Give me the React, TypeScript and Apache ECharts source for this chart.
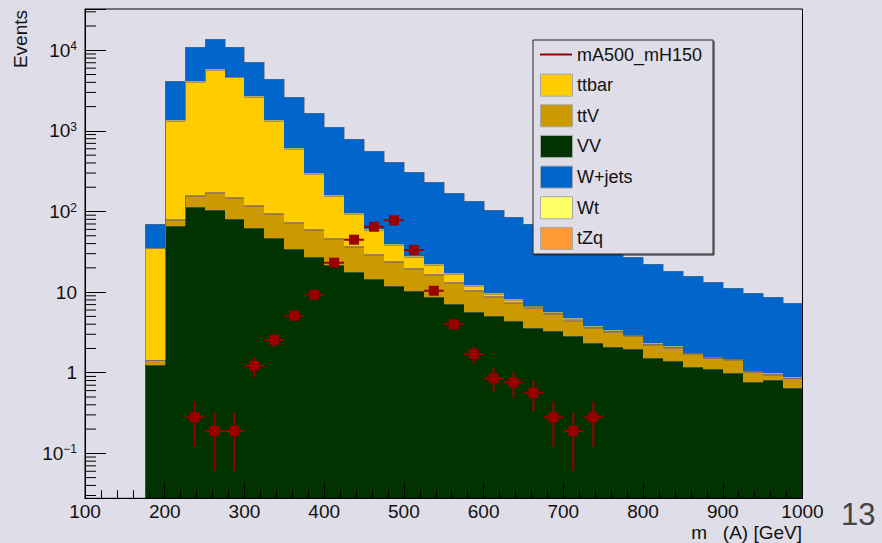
import React, { useEffect, useRef } from 'react';
import * as echarts from 'echarts';

// ---- data ----
const binLowEdges = [175, 200, 225, 250, 275, 300, 325, 350, 375, 400, 425, 450, 475, 500, 525, 550, 575, 600, 625, 650, 675, 700, 725, 750, 775, 800, 825, 850, 875, 900, 925, 950, 975];
const binWidth = 25;

const vvValues = [1.24, 66.7, 115, 104, 80, 62, 46.5, 34.7, 27.5, 21.7, 17.9, 14.6, 11.8, 10.3, 8.77, 7.11, 5.71, 5.1, 4.41, 3.55, 3.29, 2.85, 2.36, 2.1, 1.97, 1.54, 1.41, 1.19, 1.11, 0.98, 0.76, 0.81, 0.65];
const ttvValues = [0.18, 12.5, 42, 65, 66, 55, 47.6, 37.8, 31, 23.6, 18.4, 14.4, 12, 8.8, 7.53, 5.99, 4.59, 3.58, 2.99, 2.85, 2.03, 1.54, 1.24, 1.12, 0.89, 0.68, 0.64, 0.51, 0.4, 0.45, 0.26, 0.14, 0.2];
const tzqValues = [0.02, 1.5, 3, 4, 4, 3, 2.5, 2.2, 1.5, 1.2, 0.9, 0.7, 0.7, 0.6, 0.5, 0.4, 0.3, 0.25, 0.2, 0.2, 0.14, 0.12, 0.1, 0.08, 0.08, 0.06, 0.05, 0.04, 0.03, 0.04, 0.02, 0.02, 0.02];
const ttbarValues = [33.6, 1259, 3920, 5577, 4455, 2530, 1238, 518, 230, 109, 56.9, 29.7, 14.1, 7.8, 4.7, 3.15, 1.25, 0.66, 0.39, 0.06, 0.06, 0.11, 0.03, 0.03, 0.01, 0.02, 0.01, 0.01, 0.01, 0, 0, 0, 0];
const wtValues = [0.5, 25, 80, 110, 95, 60, 30, 15, 8, 4.5, 2.5, 1.6, 1.0, 0.8, 0.6, 0.45, 0.35, 0.25, 0.22, 0.12, 0.1, 0.1, 0.06, 0.06, 0.03, 0.06, 0.03, 0.02, 0.03, 0.01, 0.01, 0.01, 0.01];
const wjetsValues = [33.9, 2835, 6930, 7820, 6390, 4390, 3005, 2002, 1385, 968, 690, 502, 368, 278, 212, 151, 121, 94.2, 76.3, 63.2, 52.4, 43.3, 36.2, 29.6, 24.0, 19.9, 16.3, 14.1, 11.6, 9.92, 8.79, 7.79, 6.51];

const signalMass = [237.5, 262.5, 287.5, 312.5, 337.5, 362.5, 387.5, 412.5, 437.5, 462.5, 487.5, 512.5, 537.5, 562.5, 587.5, 612.5, 637.5, 662.5, 687.5, 712.5, 737.5];
const signalValues = [0.28, 0.19, 0.19, 1.22, 2.55, 5.1, 9.3, 23.2, 44.7, 64.7, 77.8, 33.3, 10.4, 4.0, 1.71, 0.85, 0.76, 0.565, 0.28, 0.19, 0.28];
const signalErrors = [0.16, 0.13, 0.13, 0.34, 0.49, 0.69, 0.93, 1.47, 2.04, 2.45, 2.69, 1.76, 0.98, 0.61, 0.4, 0.28, 0.27, 0.23, 0.16, 0.13, 0.16];

const yTickExponents = [-1, 0, 1, 2, 3, 4];
const yTickLabels = ['{n|10}{s|\u22121}', '{n|1}', '{n|10}', '{n|10}{s|2}', '{n|10}{s|3}', '{n|10}{s|4}'];

const X_MIN = 100;
const X_MAX = 1000;
const Y_MIN = 0.0277;
const Y_MAX = 32500;

const FONT = '"Liberation Sans", Arial, Helvetica, sans-serif';
const BG = '#dfdde8';

const layers = [
  { name: 'VV', values: vvValues, color: '#003300' },
  { name: 'ttV', values: ttvValues, color: '#cc9900' },
  { name: 'tZq', values: tzqValues, color: '#ff9933' },
  { name: 'ttbar', values: ttbarValues, color: '#ffcc00' },
  { name: 'Wt', values: wtValues, color: '#ffff66' },
  { name: 'W+jets', values: wjetsValues, color: '#0066cc' },
];

const legendEntries = [
  { name: 'mA500_mH150', color: '#990000', line: true },
  { name: 'ttbar', color: '#ffcc00' },
  { name: 'ttV', color: '#cc9900' },
  { name: 'VV', color: '#003300' },
  { name: 'W+jets', color: '#0066cc' },
  { name: 'Wt', color: '#ffff66' },
  { name: 'tZq', color: '#ff9933' },
];

function buildOption() {
  const cum = binLowEdges.map(() => 0);
  const series: any[] = [];
  layers.forEach((layer) => {
    const data = binLowEdges.map((x0, i) => {
      const lo = Math.max(cum[i], Y_MIN);
      const hi = Math.max(cum[i] + layer.values[i], Y_MIN);
      return [x0, x0 + binWidth, lo, hi, 0];
    });
    data.forEach((d, i) => {
      d[4] = i === 0 ? d[2] : data[i - 1][3];
    });
    binLowEdges.forEach((_, i) => {
      cum[i] += layer.values[i];
    });
    const color = layer.color;
    series.push({
      type: 'custom',
      name: layer.name,
      clip: true,
      silent: true,
      z: 2,
      encode: { x: [0, 1], y: [2, 3] },
      data,
      renderItem: (params: any, api: any) => {
        const x0 = api.value(0);
        const x1 = api.value(1);
        const lo = api.value(2);
        const hi = api.value(3);
        const prev = api.value(4);
        const a = api.coord([x0, hi]);
        const b = api.coord([x1, lo]);
        const c = api.coord([x0, prev]);
        const L = Math.round(a[0]);
        const R = Math.round(b[0]);
        const T = Math.round(a[1]);
        const B = Math.round(b[1]);
        const P = Math.round(c[1]);
        const children: any[] = [];
        if (B - T > 0) {
          children.push({
            type: 'rect',
            shape: { x: L, y: T, width: R - L, height: B - T },
            style: { fill: color },
          });
        }
        children.push({
          type: 'polyline',
          shape: { points: [[L + 0.5, P], [L + 0.5, T + 0.5], [R, T + 0.5]] },
          style: { stroke: 'rgba(105,105,105,0.55)', fill: null, lineWidth: 1 },
        });
        return { type: 'group', children };
      },
    });
  });

  // signal error bars
  series.push({
    type: 'custom',
    name: 'mA500_mH150 errors',
    clip: true,
    silent: true,
    z: 5,
    encode: { x: 0, y: 1 },
    data: signalMass.map((m, i) => [m, signalValues[i], signalErrors[i]]),
    renderItem: (params: any, api: any) => {
      const m = api.value(0);
      const v = api.value(1);
      const e = api.value(2);
      const top = api.coord([m, v + e]);
      const bot = api.coord([m, Math.max(v - e, Y_MIN)]);
      const left = api.coord([m - binWidth / 2, v]);
      const right = api.coord([m + binWidth / 2, v]);
      return {
        type: 'group',
        children: [
          { type: 'line', shape: { x1: top[0], y1: top[1], x2: bot[0], y2: bot[1] }, style: { stroke: '#990000', lineWidth: 2 } },
          { type: 'line', shape: { x1: left[0], y1: left[1], x2: right[0], y2: right[1] }, style: { stroke: '#990000', lineWidth: 2 } },
        ],
      };
    },
  });

  series.push({
    type: 'scatter',
    name: 'mA500_mH150',
    symbol: 'rect',
    symbolSize: 10,
    z: 6,
    silent: true,
    itemStyle: { color: '#990000', opacity: 1 },
    data: signalMass.map((m, i) => [m, signalValues[i]]),
  });

  // minor log ticks on the y axis (2..9 x 10^n)
  const minorTicks: number[][] = [];
  for (let e = -2; e <= 4; e++) {
    for (let k = 2; k <= 9; k++) {
      const v = k * Math.pow(10, e);
      if (v > Y_MIN && v < Y_MAX) minorTicks.push([X_MIN, v]);
    }
  }
  series.push({
    type: 'custom',
    name: 'yminor',
    silent: true,
    z: 20,
    encode: { x: 0, y: 1 },
    data: minorTicks,
    renderItem: (params: any, api: any) => {
      const p = api.coord([api.value(0), api.value(1)]);
      return {
        type: 'line',
        shape: { x1: p[0], y1: p[1], x2: p[0] + 11, y2: p[1] },
        style: { stroke: '#000', lineWidth: 1 },
      };
    },
  });

  // legend graphic
  const lgX = 533;
  const lgY = 40;
  const lgW = 180;
  const lgH = 214;
  const graphic: any[] = [
    { type: 'rect', z: 100, shape: { x: lgX, y: lgY, width: lgW, height: lgH }, style: { fill: BG, stroke: '#222', lineWidth: 1 } },
    { type: 'line', z: 101, shape: { x1: lgX + 1, y1: lgY + lgH + 1, x2: lgX + lgW + 1, y2: lgY + lgH + 1 }, style: { stroke: '#222', lineWidth: 1 } },
    { type: 'line', z: 101, shape: { x1: lgX + lgW + 1, y1: lgY + 1, x2: lgX + lgW + 1, y2: lgY + lgH + 1 }, style: { stroke: '#222', lineWidth: 1 } },
  ];
  legendEntries.forEach((en, i) => {
    const cy = 54.5 + i * 30.65;
    if (en.line) {
      graphic.push({ type: 'line', z: 101, shape: { x1: 540, y1: cy, x2: 572, y2: cy }, style: { stroke: en.color, lineWidth: 2 } });
    } else {
      graphic.push({ type: 'rect', z: 101, shape: { x: 540.5, y: cy - 11, width: 32, height: 22 }, style: { fill: en.color, stroke: '#a8a8a8', lineWidth: 1 } });
    }
    graphic.push({
      type: 'text', z: 101, x: 577, y: cy,
      style: { text: en.name, fill: '#111', font: `18px ${FONT}`, verticalAlign: 'middle', align: 'left' },
    });
  });
  graphic.push({
    type: 'text', x: 20, y: 10, rotation: Math.PI / 2,
    style: { text: 'Events', fill: '#111', font: `19px ${FONT}`, align: 'right', verticalAlign: 'middle' },
  });
  graphic.push({
    type: 'text', x: 802, y: 532,
    style: { text: 'm   (A) [GeV]', fill: '#111', font: `19px ${FONT}`, align: 'right', verticalAlign: 'middle' },
  });
  graphic.push({
    type: 'text', x: 841, y: 514,
    style: { text: '13', fill: '#444', font: `31px ${FONT}`, align: 'left', verticalAlign: 'middle' },
  });

  return {
    animation: false,
    backgroundColor: BG,
    grid: {
      left: 85, right: 79.5, top: 9, bottom: 44.7,
      show: true, borderColor: '#000', borderWidth: 1, backgroundColor: 'transparent',
      z: 10, outerBoundsMode: 'none',
    },
    xAxis: {
      type: 'value', min: X_MIN, max: X_MAX, interval: 100, z: 10,
      axisLine: { show: true, lineStyle: { color: '#000', width: 1 } },
      axisTick: { show: true, inside: true, length: 15, lineStyle: { color: '#000', width: 1 } },
      minorTick: { show: true, splitNumber: 5, length: 8, lineStyle: { color: '#000', width: 1 } },
      splitLine: { show: false },
      minorSplitLine: { show: false },
      axisLabel: {
        margin: 4, fontSize: 19, color: '#111', fontFamily: FONT, showMinLabel: true, showMaxLabel: true,
        formatter: (v: number) => String(Math.round(v)),
      },
    },
    yAxis: {
      type: 'log', logBase: 10, min: Y_MIN, max: Y_MAX, z: 10,
      axisLine: { show: true, lineStyle: { color: '#000', width: 1 } },
      axisTick: { show: true, inside: true, length: 21, lineStyle: { color: '#000', width: 1 } },
      splitLine: { show: false },
      axisLabel: {
        margin: 8, color: '#111', fontFamily: FONT, fontSize: 19,
        formatter: (v: number) => {
          const e = Math.log10(v);
          const r = Math.round(e);
          if (Math.abs(e - r) > 1e-6) return '';
          const idx = yTickExponents.indexOf(r);
          return idx >= 0 ? yTickLabels[idx] : '';
        },
        rich: {
          n: { fontSize: 19, lineHeight: 20, fontFamily: FONT, color: '#111' },
          s: { fontSize: 12, lineHeight: 12, verticalAlign: 'top', fontFamily: FONT, color: '#111' },
        },
      },
    },
    series,
    graphic,
  };
}

export default function App() {
  const ref = useRef<HTMLDivElement | null>(null);
  useEffect(() => {
    if (!ref.current) return;
    const chart = echarts.init(ref.current, null, { renderer: 'svg' });
    chart.setOption(buildOption() as any);
    return () => chart.dispose();
  }, []);
  return (
    <div
      ref={ref}
      style={{ position: 'fixed', left: 0, top: 0, width: 882, height: 543, background: BG }}
    />
  );
}
